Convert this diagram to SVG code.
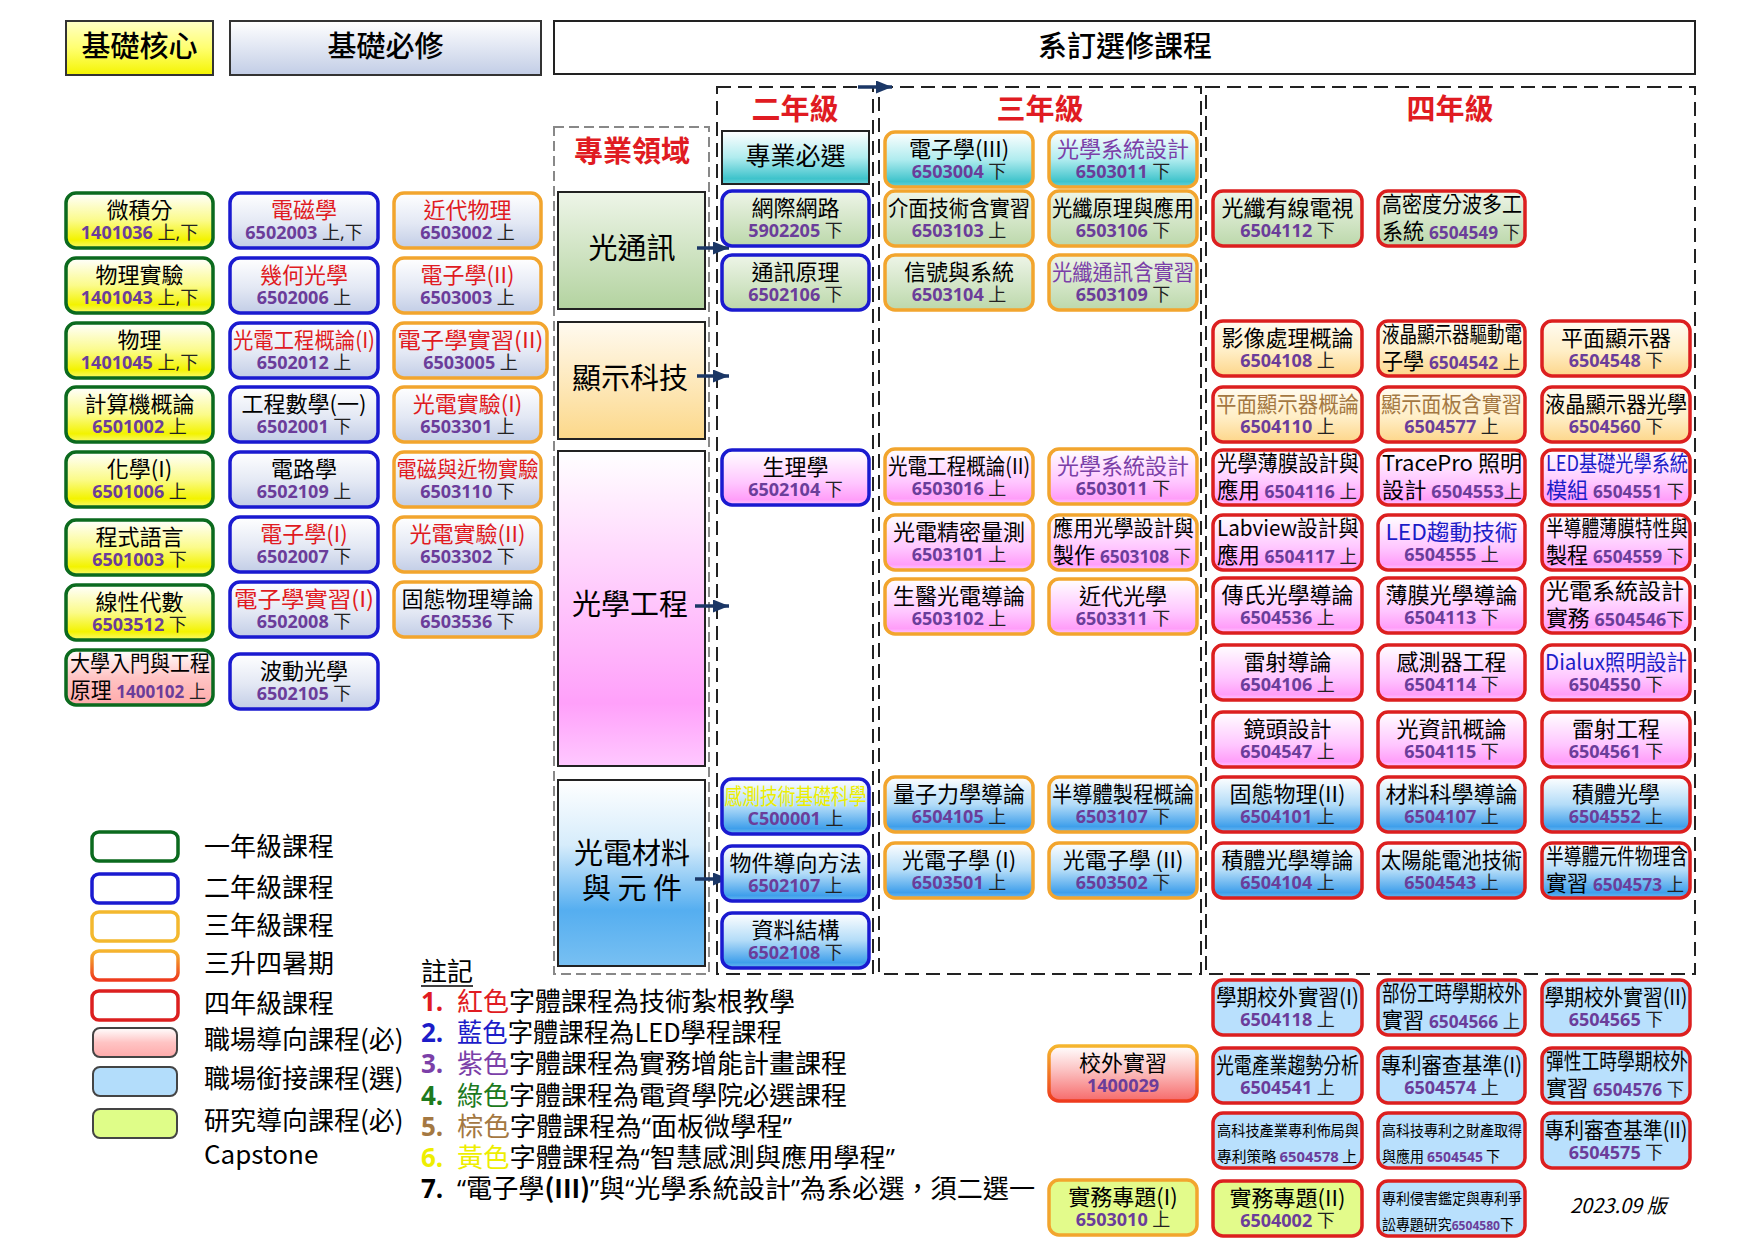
<svg xmlns="http://www.w3.org/2000/svg" width="1755" height="1241" viewBox="0 0 1755 1241">
<defs>
<linearGradient id="gY" x1="0" y1="0" x2="0" y2="1"><stop offset="0" stop-color="#ffffff"/><stop offset="0.5" stop-color="#fbfb8a"/><stop offset="0.85" stop-color="#f3f300"/><stop offset="1" stop-color="#f9f970"/></linearGradient>
<linearGradient id="gB" x1="0" y1="0" x2="0" y2="1"><stop offset="0" stop-color="#ffffff"/><stop offset="0.55" stop-color="#e3e8f4"/><stop offset="1" stop-color="#c2cde6"/></linearGradient>
<linearGradient id="gG" x1="0" y1="0" x2="0" y2="1"><stop offset="0" stop-color="#eef5e8"/><stop offset="1" stop-color="#bcd8ab"/></linearGradient>
<linearGradient id="gO" x1="0" y1="0" x2="0" y2="1"><stop offset="0" stop-color="#fffcf2"/><stop offset="0.55" stop-color="#ffeec6"/><stop offset="1" stop-color="#fdd68a"/></linearGradient>
<linearGradient id="gP" x1="0" y1="0" x2="0" y2="1"><stop offset="0" stop-color="#ffffff"/><stop offset="0.6" stop-color="#ffc6ff"/><stop offset="0.9" stop-color="#ff9ef9"/><stop offset="1" stop-color="#ffc8ff"/></linearGradient>
<linearGradient id="gS" x1="0" y1="0" x2="0" y2="1"><stop offset="0" stop-color="#ffffff"/><stop offset="0.5" stop-color="#b3dcf8"/><stop offset="0.9" stop-color="#3f9feb"/><stop offset="1" stop-color="#6cb8f0"/></linearGradient>
<linearGradient id="gT" x1="0" y1="0" x2="0" y2="1"><stop offset="0" stop-color="#ffffff"/><stop offset="0.5" stop-color="#b0ecef"/><stop offset="0.9" stop-color="#3ec3cb"/><stop offset="1" stop-color="#6ad2d8"/></linearGradient>
<linearGradient id="gR" x1="0" y1="0" x2="0" y2="1"><stop offset="0" stop-color="#ffffff"/><stop offset="0.4" stop-color="#fcc8c8"/><stop offset="1" stop-color="#f66a6a"/></linearGradient>
<linearGradient id="gRL" x1="0" y1="0" x2="0" y2="1"><stop offset="0" stop-color="#ffffff"/><stop offset="0.5" stop-color="#ffc4c4"/><stop offset="1" stop-color="#ffaaaa"/></linearGradient>
<linearGradient id="gOR" x1="0" y1="0" x2="0" y2="1"><stop offset="0" stop-color="#f5b52e"/><stop offset="1" stop-color="#ee3a1e"/></linearGradient>
<linearGradient id="hY" x1="0" y1="0" x2="0" y2="1"><stop offset="0" stop-color="#ffffc8"/><stop offset="0.5" stop-color="#ffff70"/><stop offset="1" stop-color="#f4f400"/></linearGradient>
<linearGradient id="hB" x1="0" y1="0" x2="0" y2="1"><stop offset="0" stop-color="#ffffff"/><stop offset="1" stop-color="#c2cde6"/></linearGradient>
<linearGradient id="dG" x1="0" y1="0" x2="0" y2="1"><stop offset="0" stop-color="#eef5e8"/><stop offset="1" stop-color="#b3d3a0"/></linearGradient>
<linearGradient id="dO" x1="0" y1="0" x2="0" y2="1"><stop offset="0" stop-color="#fffaf0"/><stop offset="1" stop-color="#fcd88a"/></linearGradient>
<linearGradient id="dP" x1="0" y1="0" x2="0" y2="1"><stop offset="0" stop-color="#ffffff"/><stop offset="0.8" stop-color="#ffa0fa"/><stop offset="1" stop-color="#ffc8ff"/></linearGradient>
<linearGradient id="dS" x1="0" y1="0" x2="0" y2="1"><stop offset="0" stop-color="#ffffff"/><stop offset="0.35" stop-color="#d6ecfb"/><stop offset="0.7" stop-color="#55aef0"/><stop offset="1" stop-color="#78c0f2"/></linearGradient>
<marker id="ah" viewBox="0 0 10 10" refX="10" refY="5" markerWidth="16" markerHeight="13" markerUnits="userSpaceOnUse" orient="auto" preserveAspectRatio="none"><path d="M0,0L10,5L0,10z" fill="#1b3766"/></marker>
</defs>
<style>
text{font-family:"Noto Sans CJK TC","Noto Sans CJK SC",sans-serif;fill:#000}
.t{font-size:22px;text-anchor:middle}
.c{font-family:"Open Sans","Noto Sans CJK TC",sans-serif;font-size:18px;text-anchor:middle;fill:#222}
.n{font-family:"Open Sans","Noto Sans CJK TC",sans-serif;font-weight:700;fill:#6b3d9a;font-size:18px}
.u{font-size:18px;fill:#222}
.nd{stroke-width:3.5}
.y1{stroke:#0b6a1e}.y2{stroke:#1a1ad0}.y3{stroke:#f2a52e}.y4{stroke:#dc1f1f}
.red{fill:#e01b22}.pur{fill:#7b3fa8}.brn{fill:#a47842}.blu{fill:#1c1cc8}.yel{fill:#eeee00}.grn{fill:#1d7a1d}
.h{font-size:29px;text-anchor:middle;font-weight:500}
.yr{font-size:29px;font-weight:700;fill:#e01b22;text-anchor:middle}
.dom{font-size:29px;text-anchor:middle}
.lg{font-size:26px}
.s{font-size:15px}
.num{font-family:"Open Sans",sans-serif;font-weight:700}
.q{font-family:"Open Sans",sans-serif}
.l{text-anchor:start}
.dash{fill:none;stroke:#222;stroke-width:2;stroke-dasharray:14 7}
</style>
<rect width="1755" height="1241" fill="#ffffff"/>

<g id="headers">
<rect x="66" y="21" width="147" height="54" fill="url(#hY)" stroke="#333" stroke-width="2"/>
<text class="h" x="139.5" y="57">基礎核心</text>
<rect x="230" y="21" width="311" height="54" fill="url(#hB)" stroke="#333" stroke-width="2"/>
<text class="h" x="385.5" y="57">基礎必修</text>
<rect x="554" y="21" width="1141" height="53" fill="#fff" stroke="#222" stroke-width="2"/>
<text class="h" x="1125" y="57">系訂選修課程</text>
</g>

<g id="frames">
<rect x="554" y="127" width="155" height="847" fill="none" stroke="#888" stroke-width="2" stroke-dasharray="10 5"/>
<text class="yr" x="632" y="162">專業領域</text>
<rect class="dash" x="717" y="87" width="156" height="887"/>
<text class="yr" x="795" y="120">二年級</text>
<rect class="dash" x="879" y="87" width="322" height="887"/>
<text class="yr" x="1040" y="120">三年級</text>
<rect class="dash" x="1206" y="87" width="489" height="887"/>
<text class="yr" x="1450" y="120">四年級</text>
</g>

<g id="domain-optcomm"><rect x="558" y="192" width="147" height="117" fill="url(#dG)" stroke="#222" stroke-width="2"/><text class="dom" x="632" y="259">光通訊</text></g>
<g id="domain-display"><rect x="558" y="322" width="147" height="117" fill="url(#dO)" stroke="#222" stroke-width="2"/><text class="dom" x="630" y="389">顯示科技</text></g>
<g id="domain-opteng"><rect x="558" y="451" width="147" height="315" fill="url(#dP)" stroke="#222" stroke-width="2"/><text class="dom" x="630" y="615">光學工程</text></g>
<g id="domain-material"><rect x="558" y="780" width="147" height="186" fill="url(#dS)" stroke="#222" stroke-width="2"/><text class="dom" x="632" y="864">光電材料</text><text class="dom" x="632" y="899">與 元 件</text></g>
<g id="req-header"><rect x="722" y="131" width="147" height="53" fill="url(#gT)" stroke="#222" stroke-width="2"/><text x="795.5" y="165" font-size="25" text-anchor="middle">專業必選</text></g>

<g id="connectors" stroke="#1b3766" stroke-width="3.5" marker-end="url(#ah)">
<line x1="697" y1="248" x2="729" y2="248"/>
<line x1="697" y1="376" x2="729" y2="376"/>
<line x1="695" y1="606" x2="729" y2="606"/>
<line x1="695" y1="879" x2="729" y2="879"/>
<line x1="858" y1="87" x2="892" y2="87"/>
</g>

<!-- Column 1 -->
<g id="c1-calc"><rect class="nd y1" x="66" y="193" width="147" height="55" rx="10" fill="url(#gY)"/><text class="t" x="139.5" y="218">微積分</text><text class="c" x="139.5" y="239"><tspan class="n">1401036</tspan> 上,下</text></g>
<g id="c1-phylab"><rect class="nd y1" x="66" y="258" width="147" height="55" rx="10" fill="url(#gY)"/><text class="t" x="139.5" y="283">物理實驗</text><text class="c" x="139.5" y="304"><tspan class="n">1401043</tspan> 上,下</text></g>
<g id="c1-phy"><rect class="nd y1" x="66" y="323" width="147" height="55" rx="10" fill="url(#gY)"/><text class="t" x="139.5" y="348">物理</text><text class="c" x="139.5" y="369"><tspan class="n">1401045</tspan> 上,下</text></g>
<g id="c1-comp"><rect class="nd y1" x="66" y="387" width="147" height="55" rx="10" fill="url(#gY)"/><text class="t" x="139.5" y="412">計算機概論</text><text class="c" x="139.5" y="433"><tspan class="n">6501002</tspan> 上</text></g>
<g id="c1-chem"><rect class="nd y1" x="66" y="452" width="147" height="55" rx="10" fill="url(#gY)"/><text class="t" x="139.5" y="477">化學(I)</text><text class="c" x="139.5" y="498"><tspan class="n">6501006</tspan> 上</text></g>
<g id="c1-prog"><rect class="nd y1" x="66" y="520" width="147" height="55" rx="10" fill="url(#gY)"/><text class="t" x="139.5" y="545">程式語言</text><text class="c" x="139.5" y="566"><tspan class="n">6501003</tspan> 下</text></g>
<g id="c1-linalg"><rect class="nd y1" x="66" y="585" width="147" height="55" rx="10" fill="url(#gY)"/><text class="t" x="139.5" y="610">線性代數</text><text class="c" x="139.5" y="631"><tspan class="n">6503512</tspan> 下</text></g>
<g id="c1-intro"><rect class="nd y1" x="66" y="650" width="147" height="55" rx="10" fill="url(#gRL)"/><text class="t l" x="70" y="671" textLength="140" lengthAdjust="spacingAndGlyphs">大學入門與工程</text><text class="t l" x="70" y="698" textLength="136" lengthAdjust="spacingAndGlyphs">原理 <tspan class="n">1400102</tspan> <tspan class="u">上</tspan></text></g>

<!-- Column 2 -->
<g id="c2-em"><rect class="nd y2" x="230" y="193" width="148" height="55" rx="10" fill="url(#gB)"/><text class="t red" x="304" y="218">電磁學</text><text class="c" x="304" y="239"><tspan class="n">6502003</tspan> 上,下</text></g>
<g id="c2-geo"><rect class="nd y2" x="230" y="258" width="148" height="55" rx="10" fill="url(#gB)"/><text class="t red" x="304" y="283">幾何光學</text><text class="c" x="304" y="304"><tspan class="n">6502006</tspan> 上</text></g>
<g id="c2-oe1"><rect class="nd y2" x="230" y="323" width="148" height="55" rx="10" fill="url(#gB)"/><text class="t red" x="304" y="348" textLength="142" lengthAdjust="spacingAndGlyphs">光電工程概論(I)</text><text class="c" x="304" y="369"><tspan class="n">6502012</tspan> 上</text></g>
<g id="c2-engmath"><rect class="nd y2" x="230" y="387" width="148" height="55" rx="10" fill="url(#gB)"/><text class="t" x="304" y="412">工程數學(一)</text><text class="c" x="304" y="433"><tspan class="n">6502001</tspan> 下</text></g>
<g id="c2-circuit"><rect class="nd y2" x="230" y="452" width="148" height="55" rx="10" fill="url(#gB)"/><text class="t" x="304" y="477">電路學</text><text class="c" x="304" y="498"><tspan class="n">6502109</tspan> 上</text></g>
<g id="c2-elec1"><rect class="nd y2" x="230" y="517" width="148" height="55" rx="10" fill="url(#gB)"/><text class="t red" x="304" y="542">電子學(I)</text><text class="c" x="304" y="563"><tspan class="n">6502007</tspan> 下</text></g>
<g id="c2-eleclab1"><rect class="nd y2" x="230" y="582" width="148" height="55" rx="10" fill="url(#gB)"/><text class="t red" x="304" y="607" textLength="140" lengthAdjust="spacingAndGlyphs">電子學實習(I)</text><text class="c" x="304" y="628"><tspan class="n">6502008</tspan> 下</text></g>
<g id="c2-wave"><rect class="nd y2" x="230" y="654" width="148" height="55" rx="10" fill="url(#gB)"/><text class="t" x="304" y="679">波動光學</text><text class="c" x="304" y="700"><tspan class="n">6502105</tspan> 下</text></g>

<!-- Column 3 -->
<g id="c3-modphy"><rect class="nd y3" x="394" y="193" width="147" height="55" rx="10" fill="url(#gB)"/><text class="t red" x="467.5" y="218">近代物理</text><text class="c" x="467.5" y="239"><tspan class="n">6503002</tspan> 上</text></g>
<g id="c3-elec2"><rect class="nd y3" x="394" y="258" width="147" height="55" rx="10" fill="url(#gB)"/><text class="t red" x="467.5" y="283">電子學(II)</text><text class="c" x="467.5" y="304"><tspan class="n">6503003</tspan> 上</text></g>
<g id="c3-eleclab2"><rect class="nd y3" x="394" y="323" width="153" height="55" rx="10" fill="url(#gB)"/><text class="t red" x="470.5" y="348" textLength="146" lengthAdjust="spacingAndGlyphs">電子學實習(II)</text><text class="c" x="470.5" y="369"><tspan class="n">6503005</tspan> 上</text></g>
<g id="c3-oelab1"><rect class="nd y3" x="394" y="387" width="147" height="55" rx="10" fill="url(#gB)"/><text class="t red" x="467.5" y="412">光電實驗(I)</text><text class="c" x="467.5" y="433"><tspan class="n">6503301</tspan> 上</text></g>
<g id="c3-emlab"><rect class="nd y3" x="394" y="452" width="147" height="55" rx="10" fill="url(#gB)"/><text class="t red" x="467.5" y="477" textLength="142" lengthAdjust="spacingAndGlyphs">電磁與近物實驗</text><text class="c" x="467.5" y="498"><tspan class="n">6503110</tspan> 下</text></g>
<g id="c3-oelab2"><rect class="nd y3" x="394" y="517" width="147" height="55" rx="10" fill="url(#gB)"/><text class="t red" x="467.5" y="542">光電實驗(II)</text><text class="c" x="467.5" y="563"><tspan class="n">6503302</tspan> 下</text></g>
<g id="c3-solid"><rect class="nd y3" x="394" y="582" width="147" height="55" rx="10" fill="url(#gB)"/><text class="t" x="467.5" y="607">固態物理導論</text><text class="c" x="467.5" y="628"><tspan class="n">6503536</tspan> 下</text></g>

<!-- Year 2 -->
<g id="y2-internet"><rect class="nd y2" x="722" y="191" width="147" height="55" rx="10" fill="url(#gG)"/><text class="t" x="795.5" y="216">網際網路</text><text class="c" x="795.5" y="237"><tspan class="n">5902205</tspan> 下</text></g>
<g id="y2-comm"><rect class="nd y2" x="722" y="255" width="147" height="55" rx="10" fill="url(#gG)"/><text class="t" x="795.5" y="280">通訊原理</text><text class="c" x="795.5" y="301"><tspan class="n">6502106</tspan> 下</text></g>
<g id="y2-physio"><rect class="nd y2" x="722" y="450" width="147" height="55" rx="10" fill="url(#gP)"/><text class="t" x="795.5" y="475">生理學</text><text class="c" x="795.5" y="496"><tspan class="n">6502104</tspan> 下</text></g>
<g id="y2-sensing"><rect class="nd y2" x="722" y="779" width="147" height="55" rx="10" fill="url(#gS)"/><text class="t yel" x="795.5" y="804" textLength="142" lengthAdjust="spacingAndGlyphs">感測技術基礎科學</text><text class="c" x="795.5" y="825"><tspan class="n">C500001</tspan> 上</text></g>
<g id="y2-oop"><rect class="nd y2" x="722" y="846" width="147" height="55" rx="10" fill="url(#gS)"/><text class="t" x="795.5" y="871">物件導向方法</text><text class="c" x="795.5" y="892"><tspan class="n">6502107</tspan> 上</text></g>
<g id="y2-ds"><rect class="nd y2" x="722" y="913" width="147" height="55" rx="10" fill="url(#gS)"/><text class="t" x="795.5" y="938">資料結構</text><text class="c" x="795.5" y="959"><tspan class="n">6502108</tspan> 下</text></g>

<!-- Year 3 -->
<g id="y3-elec3"><rect class="nd y3" x="885" y="132" width="148" height="55" rx="10" fill="url(#gT)"/><text class="t" x="959" y="157">電子學(III)</text><text class="c" x="959" y="178"><tspan class="n">6503004</tspan> 下</text></g>
<g id="y3-osd1"><rect class="nd y3" x="1049" y="132" width="148" height="55" rx="10" fill="url(#gT)"/><text class="t pur" x="1123" y="157">光學系統設計</text><text class="c" x="1123" y="178"><tspan class="n">6503011</tspan> 下</text></g>
<g id="y3-interface"><rect class="nd y3" x="885" y="191" width="148" height="55" rx="10" fill="url(#gG)"/><text class="t" x="959" y="216" textLength="142" lengthAdjust="spacingAndGlyphs">介面技術含實習</text><text class="c" x="959" y="237"><tspan class="n">6503103</tspan> 上</text></g>
<g id="y3-fiber"><rect class="nd y3" x="1049" y="191" width="148" height="55" rx="10" fill="url(#gG)"/><text class="t" x="1123" y="216" textLength="142" lengthAdjust="spacingAndGlyphs">光纖原理與應用</text><text class="c" x="1123" y="237"><tspan class="n">6503106</tspan> 下</text></g>
<g id="y3-signal"><rect class="nd y3" x="885" y="255" width="148" height="55" rx="10" fill="url(#gG)"/><text class="t" x="959" y="280">信號與系統</text><text class="c" x="959" y="301"><tspan class="n">6503104</tspan> 上</text></g>
<g id="y3-fibercomm"><rect class="nd y3" x="1049" y="255" width="148" height="55" rx="10" fill="url(#gG)"/><text class="t pur" x="1123" y="280" textLength="142" lengthAdjust="spacingAndGlyphs">光纖通訊含實習</text><text class="c" x="1123" y="301"><tspan class="n">6503109</tspan> 下</text></g>
<g id="y3-oe2"><rect class="nd y3" x="885" y="449" width="148" height="55" rx="10" fill="url(#gP)"/><text class="t" x="959" y="474" textLength="142" lengthAdjust="spacingAndGlyphs">光電工程概論(II)</text><text class="c" x="959" y="495"><tspan class="n">6503016</tspan> 上</text></g>
<g id="y3-osd2"><rect class="nd y3" x="1049" y="449" width="148" height="55" rx="10" fill="url(#gP)"/><text class="t pur" x="1123" y="474">光學系統設計</text><text class="c" x="1123" y="495"><tspan class="n">6503011</tspan> 下</text></g>
<g id="y3-precision"><rect class="nd y3" x="885" y="515" width="148" height="55" rx="10" fill="url(#gP)"/><text class="t" x="959" y="540">光電精密量測</text><text class="c" x="959" y="561"><tspan class="n">6503101</tspan> 上</text></g>
<g id="y3-appopt"><rect class="nd y3" x="1049" y="515" width="148" height="55" rx="10" fill="url(#gP)"/><text class="t l" x="1053" y="536" textLength="141" lengthAdjust="spacingAndGlyphs">應用光學設計與</text><text class="t l" x="1053" y="563" textLength="138" lengthAdjust="spacingAndGlyphs">製作 <tspan class="n">6503108</tspan> <tspan class="u">下</tspan></text></g>
<g id="y3-biomed"><rect class="nd y3" x="885" y="579" width="148" height="55" rx="10" fill="url(#gP)"/><text class="t" x="959" y="604">生醫光電導論</text><text class="c" x="959" y="625"><tspan class="n">6503102</tspan> 上</text></g>
<g id="y3-modopt"><rect class="nd y3" x="1049" y="579" width="148" height="55" rx="10" fill="url(#gP)"/><text class="t" x="1123" y="604">近代光學</text><text class="c" x="1123" y="625"><tspan class="n">6503311</tspan> 下</text></g>
<g id="y3-qm"><rect class="nd y3" x="885" y="777" width="148" height="55" rx="10" fill="url(#gS)"/><text class="t" x="959" y="802">量子力學導論</text><text class="c" x="959" y="823"><tspan class="n">6504105</tspan> 上</text></g>
<g id="y3-semiproc"><rect class="nd y3" x="1049" y="777" width="148" height="55" rx="10" fill="url(#gS)"/><text class="t" x="1123" y="802" textLength="142" lengthAdjust="spacingAndGlyphs">半導體製程概論</text><text class="c" x="1123" y="823"><tspan class="n">6503107</tspan> 下</text></g>
<g id="y3-optoe1"><rect class="nd y3" x="885" y="843" width="148" height="55" rx="10" fill="url(#gS)"/><text class="t" x="959" y="868">光電子學 (I)</text><text class="c" x="959" y="889"><tspan class="n">6503501</tspan> 上</text></g>
<g id="y3-optoe2"><rect class="nd y3" x="1049" y="843" width="148" height="55" rx="10" fill="url(#gS)"/><text class="t" x="1123" y="868">光電子學 (II)</text><text class="c" x="1123" y="889"><tspan class="n">6503502</tspan> 下</text></g>
<g id="y3-intern"><rect class="nd" x="1049" y="1046" width="148" height="55" rx="10" fill="url(#gR)" stroke="url(#gOR)"/><text class="t" x="1123" y="1071">校外實習</text><text class="c" x="1123" y="1092"><tspan class="n">1400029</tspan></text></g>
<g id="y3-project1"><rect class="nd y3" x="1049" y="1180" width="148" height="55" rx="10" fill="#e3fb8b"/><text class="t" x="1123" y="1205">實務專題(I)</text><text class="c" x="1123" y="1226"><tspan class="n">6503010</tspan> 上</text></g>

<!-- Year 4 -->
<g id="y4-catv"><rect class="nd y4" x="1213" y="191" width="149" height="55" rx="10" fill="url(#gG)"/><text class="t" x="1287.5" y="216">光纖有線電視</text><text class="c" x="1287.5" y="237"><tspan class="n">6504112</tspan> 下</text></g>
<g id="y4-dwdm"><rect class="nd y4" x="1378" y="191" width="147" height="55" rx="10" fill="url(#gG)"/><text class="t l" x="1382" y="212" textLength="140" lengthAdjust="spacingAndGlyphs">高密度分波多工</text><text class="t l" x="1382" y="239" textLength="138" lengthAdjust="spacingAndGlyphs">系統 <tspan class="n">6504549</tspan> <tspan class="u">下</tspan></text></g>
<g id="y4-imgproc"><rect class="nd y4" x="1213" y="321" width="149" height="55" rx="10" fill="url(#gO)"/><text class="t" x="1287.5" y="346">影像處理概論</text><text class="c" x="1287.5" y="367"><tspan class="n">6504108</tspan> 上</text></g>
<g id="y4-lcddrv"><rect class="nd y4" x="1378" y="321" width="147" height="55" rx="10" fill="url(#gO)"/><text class="t l" x="1382" y="342" textLength="140" lengthAdjust="spacingAndGlyphs">液晶顯示器驅動電</text><text class="t l" x="1382" y="369" textLength="138" lengthAdjust="spacingAndGlyphs">子學 <tspan class="n">6504542</tspan>  <tspan class="u">上</tspan></text></g>
<g id="y4-fpd"><rect class="nd y4" x="1542" y="321" width="148" height="55" rx="10" fill="url(#gO)"/><text class="t" x="1616" y="346">平面顯示器</text><text class="c" x="1616" y="367"><tspan class="n">6504548</tspan> 下</text></g>
<g id="y4-fpdintro"><rect class="nd y4" x="1213" y="387" width="149" height="55" rx="10" fill="url(#gO)"/><text class="t brn" x="1287.5" y="412" textLength="143" lengthAdjust="spacingAndGlyphs">平面顯示器概論</text><text class="c" x="1287.5" y="433"><tspan class="n">6504110</tspan> 上</text></g>
<g id="y4-panel"><rect class="nd y4" x="1378" y="387" width="147" height="55" rx="10" fill="url(#gO)"/><text class="t brn" x="1451.5" y="412" textLength="141" lengthAdjust="spacingAndGlyphs">顯示面板含實習</text><text class="c" x="1451.5" y="433"><tspan class="n">6504577</tspan> 上</text></g>
<g id="y4-lcdopt"><rect class="nd y4" x="1542" y="387" width="148" height="55" rx="10" fill="url(#gO)"/><text class="t" x="1616" y="412" textLength="142" lengthAdjust="spacingAndGlyphs">液晶顯示器光學</text><text class="c" x="1616" y="433"><tspan class="n">6504560</tspan> 下</text></g>
<g id="y4-thinfilm"><rect class="nd y4" x="1213" y="450" width="149" height="55" rx="10" fill="url(#gP)"/><text class="t l" x="1217" y="471" textLength="142" lengthAdjust="spacingAndGlyphs">光學薄膜設計與</text><text class="t l" x="1217" y="498" textLength="140" lengthAdjust="spacingAndGlyphs">應用 <tspan class="n">6504116</tspan> <tspan class="u">上</tspan></text></g>
<g id="y4-tracepro"><rect class="nd y4" x="1378" y="450" width="147" height="55" rx="10" fill="url(#gP)"/><text class="t l" x="1382" y="471" textLength="140" lengthAdjust="spacingAndGlyphs">TracePro 照明</text><text class="t l" x="1382" y="498" textLength="140" lengthAdjust="spacingAndGlyphs">設計 <tspan class="n">6504553</tspan><tspan class="u">上</tspan></text></g>
<g id="y4-ledopt"><rect class="nd y4" x="1542" y="450" width="148" height="55" rx="10" fill="url(#gP)"/><text class="t l blu" x="1546" y="471" textLength="142" lengthAdjust="spacingAndGlyphs">LED基礎光學系統</text><text class="t l" x="1546" y="498" textLength="138" lengthAdjust="spacingAndGlyphs"><tspan class="blu">模組</tspan> <tspan class="n">6504551</tspan>  <tspan class="u">下</tspan></text></g>
<g id="y4-labview"><rect class="nd y4" x="1213" y="515" width="149" height="55" rx="10" fill="url(#gP)"/><text class="t l" x="1217" y="536" textLength="142" lengthAdjust="spacingAndGlyphs">Labview設計與</text><text class="t l" x="1217" y="563" textLength="140" lengthAdjust="spacingAndGlyphs">應用 <tspan class="n">6504117</tspan> <tspan class="u">上</tspan></text></g>
<g id="y4-leddrv"><rect class="nd y4" x="1378" y="515" width="147" height="55" rx="10" fill="url(#gP)"/><text class="t blu" x="1451.5" y="540" textLength="132" lengthAdjust="spacingAndGlyphs">LED趨動技術</text><text class="c" x="1451.5" y="561"><tspan class="n">6504555</tspan> 上</text></g>
<g id="y4-semifilm"><rect class="nd y4" x="1542" y="515" width="148" height="55" rx="10" fill="url(#gP)"/><text class="t l" x="1546" y="536" textLength="142" lengthAdjust="spacingAndGlyphs">半導體薄膜特性與</text><text class="t l" x="1546" y="563" textLength="138" lengthAdjust="spacingAndGlyphs">製程 <tspan class="n">6504559</tspan>  <tspan class="u">下</tspan></text></g>
<g id="y4-fourier"><rect class="nd y4" x="1213" y="578" width="149" height="55" rx="10" fill="url(#gP)"/><text class="t" x="1287.5" y="603">傳氏光學導論</text><text class="c" x="1287.5" y="624"><tspan class="n">6504536</tspan> 上</text></g>
<g id="y4-filmopt"><rect class="nd y4" x="1378" y="578" width="147" height="55" rx="10" fill="url(#gP)"/><text class="t" x="1451.5" y="603">薄膜光學導論</text><text class="c" x="1451.5" y="624"><tspan class="n">6504113</tspan> 下</text></g>
<g id="y4-oesys"><rect class="nd y4" x="1542" y="578" width="148" height="55" rx="10" fill="url(#gP)"/><text class="t l" x="1546" y="599" textLength="138" lengthAdjust="spacingAndGlyphs">光電系統設計</text><text class="t l" x="1546" y="626" textLength="138" lengthAdjust="spacingAndGlyphs">實務 <tspan class="n">6504546</tspan><tspan class="u">下</tspan></text></g>
<g id="y4-laser"><rect class="nd y4" x="1213" y="645" width="149" height="55" rx="10" fill="url(#gP)"/><text class="t" x="1287.5" y="670">雷射導論</text><text class="c" x="1287.5" y="691"><tspan class="n">6504106</tspan> 上</text></g>
<g id="y4-sensor"><rect class="nd y4" x="1378" y="645" width="147" height="55" rx="10" fill="url(#gP)"/><text class="t" x="1451.5" y="670">感測器工程</text><text class="c" x="1451.5" y="691"><tspan class="n">6504114</tspan> 下</text></g>
<g id="y4-dialux"><rect class="nd y4" x="1542" y="645" width="148" height="55" rx="10" fill="url(#gP)"/><text class="t blu" x="1616" y="670" textLength="142" lengthAdjust="spacingAndGlyphs">Dialux照明設計</text><text class="c" x="1616" y="691"><tspan class="n">6504550</tspan> 下</text></g>
<g id="y4-lens"><rect class="nd y4" x="1213" y="712" width="149" height="55" rx="10" fill="url(#gP)"/><text class="t" x="1287.5" y="737">鏡頭設計</text><text class="c" x="1287.5" y="758"><tspan class="n">6504547</tspan> 上</text></g>
<g id="y4-optinfo"><rect class="nd y4" x="1378" y="712" width="147" height="55" rx="10" fill="url(#gP)"/><text class="t" x="1451.5" y="737">光資訊概論</text><text class="c" x="1451.5" y="758"><tspan class="n">6504115</tspan> 下</text></g>
<g id="y4-lasereng"><rect class="nd y4" x="1542" y="712" width="148" height="55" rx="10" fill="url(#gP)"/><text class="t" x="1616" y="737">雷射工程</text><text class="c" x="1616" y="758"><tspan class="n">6504561</tspan> 下</text></g>
<g id="y4-solid2"><rect class="nd y4" x="1213" y="777" width="149" height="55" rx="10" fill="url(#gS)"/><text class="t" x="1287.5" y="802">固態物理(II)</text><text class="c" x="1287.5" y="823"><tspan class="n">6504101</tspan> 上</text></g>
<g id="y4-matsci"><rect class="nd y4" x="1378" y="777" width="147" height="55" rx="10" fill="url(#gS)"/><text class="t" x="1451.5" y="802">材料科學導論</text><text class="c" x="1451.5" y="823"><tspan class="n">6504107</tspan> 上</text></g>
<g id="y4-intopt"><rect class="nd y4" x="1542" y="777" width="148" height="55" rx="10" fill="url(#gS)"/><text class="t" x="1616" y="802">積體光學</text><text class="c" x="1616" y="823"><tspan class="n">6504552</tspan> 上</text></g>
<g id="y4-intoptintro"><rect class="nd y4" x="1213" y="843" width="149" height="55" rx="10" fill="url(#gS)"/><text class="t" x="1287.5" y="868">積體光學導論</text><text class="c" x="1287.5" y="889"><tspan class="n">6504104</tspan> 上</text></g>
<g id="y4-solar"><rect class="nd y4" x="1378" y="843" width="147" height="55" rx="10" fill="url(#gS)"/><text class="t" x="1451.5" y="868" textLength="141" lengthAdjust="spacingAndGlyphs">太陽能電池技術</text><text class="c" x="1451.5" y="889"><tspan class="n">6504543</tspan> 上</text></g>
<g id="y4-semidev"><rect class="nd y4" x="1542" y="843" width="148" height="55" rx="10" fill="url(#gS)"/><text class="t l" x="1546" y="864" textLength="142" lengthAdjust="spacingAndGlyphs">半導體元件物理含</text><text class="t l" x="1546" y="891" textLength="138" lengthAdjust="spacingAndGlyphs">實習 <tspan class="n">6504573</tspan>  <tspan class="u">上</tspan></text></g>
<g id="y4-intern1"><rect class="nd y4" x="1213" y="980" width="149" height="55" rx="10" fill="#b9e0fd"/><text class="t" x="1287.5" y="1005" textLength="143" lengthAdjust="spacingAndGlyphs">學期校外實習(I)</text><text class="c" x="1287.5" y="1026"><tspan class="n">6504118</tspan> 上</text></g>
<g id="y4-parttime"><rect class="nd y4" x="1378" y="980" width="147" height="55" rx="10" fill="#b9e0fd"/><text class="t l" x="1382" y="1001" textLength="140" lengthAdjust="spacingAndGlyphs">部份工時學期校外</text><text class="t l" x="1382" y="1028" textLength="138" lengthAdjust="spacingAndGlyphs">實習  <tspan class="n">6504566</tspan>  <tspan class="u">上</tspan></text></g>
<g id="y4-intern2"><rect class="nd y4" x="1542" y="980" width="148" height="55" rx="10" fill="#b9e0fd"/><text class="t" x="1616" y="1005" textLength="143" lengthAdjust="spacingAndGlyphs">學期校外實習(II)</text><text class="c" x="1616" y="1026"><tspan class="n">6504565</tspan> 下</text></g>
<g id="y4-trend"><rect class="nd y4" x="1213" y="1048" width="149" height="55" rx="10" fill="#b9e0fd"/><text class="t" x="1287.5" y="1073" textLength="143" lengthAdjust="spacingAndGlyphs">光電產業趨勢分析</text><text class="c" x="1287.5" y="1094"><tspan class="n">6504541</tspan> 上</text></g>
<g id="y4-patent1"><rect class="nd y4" x="1378" y="1048" width="147" height="55" rx="10" fill="#b9e0fd"/><text class="t" x="1451.5" y="1073" textLength="141" lengthAdjust="spacingAndGlyphs">專利審查基準(I)</text><text class="c" x="1451.5" y="1094"><tspan class="n">6504574</tspan> 上</text></g>
<g id="y4-flextime"><rect class="nd y4" x="1542" y="1048" width="148" height="55" rx="10" fill="#b9e0fd"/><text class="t l" x="1546" y="1069" textLength="142" lengthAdjust="spacingAndGlyphs">彈性工時學期校外</text><text class="t l" x="1546" y="1096" textLength="138" lengthAdjust="spacingAndGlyphs">實習  <tspan class="n">6504576</tspan>  <tspan class="u">下</tspan></text></g>
<g id="y4-patentlayout"><rect class="nd y4" x="1213" y="1113" width="149" height="55" rx="10" fill="#b9e0fd"/><text class="s l" x="1217" y="1136" textLength="142" lengthAdjust="spacingAndGlyphs">高科技產業專利佈局與</text><text class="s l" x="1217" y="1162" textLength="140" lengthAdjust="spacingAndGlyphs">專利策略 <tspan class="n" style="font-size:15px">6504578</tspan> 上</text></g>
<g id="y4-patentprop"><rect class="nd y4" x="1378" y="1113" width="147" height="55" rx="10" fill="#b9e0fd"/><text class="s l" x="1382" y="1136" textLength="140" lengthAdjust="spacingAndGlyphs">高科技專利之財產取得</text><text class="s l" x="1382" y="1162" textLength="118" lengthAdjust="spacingAndGlyphs">與應用 <tspan class="n" style="font-size:15px">6504545</tspan> 下</text></g>
<g id="y4-patent2"><rect class="nd y4" x="1542" y="1113" width="148" height="55" rx="10" fill="#b9e0fd"/><text class="t" x="1616" y="1138" textLength="143" lengthAdjust="spacingAndGlyphs">專利審查基準(II)</text><text class="c" x="1616" y="1159"><tspan class="n">6504575</tspan> 下</text></g>
<g id="y4-project2"><rect class="nd y4" x="1213" y="1181" width="149" height="55" rx="10" fill="#e3fb8b"/><text class="t" x="1287.5" y="1206">實務專題(II)</text><text class="c" x="1287.5" y="1227"><tspan class="n">6504002</tspan> 下</text></g>
<g id="y4-patentlit"><rect class="nd y4" x="1378" y="1181" width="147" height="55" rx="10" fill="#b9e0fd"/><text class="s l" x="1382" y="1204" textLength="140" lengthAdjust="spacingAndGlyphs">專利侵害鑑定與專利爭</text><text class="s l" x="1382" y="1230" textLength="132" lengthAdjust="spacingAndGlyphs">訟專題研究<tspan class="n" style="font-size:13px">6504580</tspan>下</text></g>

<!-- Legend -->
<g id="legend">
<rect x="92" y="832" width="86" height="29" rx="7" fill="#fff" stroke="#0b6a1e" stroke-width="3.5"/>
<rect x="92" y="874" width="86" height="29" rx="7" fill="#fff" stroke="#1a1ad0" stroke-width="3.5"/>
<rect x="92" y="912" width="86" height="29" rx="7" fill="#fff" stroke="#f3b82e" stroke-width="3.5"/>
<rect x="92" y="951" width="86" height="29" rx="7" fill="#fff" stroke="url(#gOR)" stroke-width="3.5"/>
<rect x="92" y="991" width="86" height="29" rx="7" fill="#fff" stroke="#dc1f1f" stroke-width="3.5"/>
<rect x="93" y="1028" width="84" height="29" rx="7" fill="url(#gRL)" stroke="#444" stroke-width="2"/>
<rect x="93" y="1067" width="84" height="29" rx="7" fill="#b3ddfb" stroke="#444" stroke-width="2"/>
<rect x="93" y="1109" width="84" height="29" rx="7" fill="#dffd88" stroke="#444" stroke-width="2"/>
<text class="lg" x="204" y="856">一年級課程</text>
<text class="lg" x="204" y="897">二年級課程</text>
<text class="lg" x="204" y="935">三年級課程</text>
<text class="lg" x="204" y="973">三升四暑期</text>
<text class="lg" x="204" y="1013">四年級課程</text>
<text class="lg" x="204" y="1049">職場導向課程(必)</text>
<text class="lg" x="204" y="1088">職場銜接課程(選)</text>
<text class="lg" x="204" y="1130">研究導向課程(必)</text>
<text class="lg" x="204" y="1164">Capstone</text>
</g>

<!-- Notes -->
<g id="notes">
<text class="lg" x="421" y="981">註記</text>
<line x1="421" y1="986" x2="473" y2="986" stroke="#000" stroke-width="1.5"/>
<text class="lg num red" x="421" y="1011">1.</text>
<text class="lg" x="457" y="1011"><tspan class="red">紅色</tspan>字體課程為技術紮根教學</text>
<text class="lg num blu" x="421" y="1042">2.</text>
<text class="lg" x="457" y="1042" textLength="325" lengthAdjust="spacingAndGlyphs"><tspan class="blu">藍色</tspan>字體課程為LED學程課程</text>
<text class="lg num pur" x="421" y="1073">3.</text>
<text class="lg" x="457" y="1073"><tspan class="pur">紫色</tspan>字體課程為實務增能計畫課程</text>
<text class="lg num grn" x="421" y="1105">4.</text>
<text class="lg" x="457" y="1105"><tspan class="grn">綠色</tspan>字體課程為電資學院必選課程</text>
<text class="lg num brn" x="421" y="1136">5.</text>
<text class="lg" x="457" y="1136" textLength="335" lengthAdjust="spacingAndGlyphs"><tspan class="brn">棕色</tspan>字體課程為<tspan class="q">“</tspan>面板微學程<tspan class="q">”</tspan></text>
<text class="lg num yel" x="421" y="1167">6.</text>
<text class="lg" x="457" y="1167" textLength="438" lengthAdjust="spacingAndGlyphs"><tspan class="yel">黃色</tspan>字體課程為<tspan class="q">“</tspan>智慧感測與應用學程<tspan class="q">”</tspan></text>
<text class="lg num" x="421" y="1198">7.</text>
<text class="lg" x="457" y="1198" textLength="578" lengthAdjust="spacingAndGlyphs"><tspan class="q">“</tspan>電子學<tspan font-weight="700">(III)</tspan><tspan class="q">”</tspan>與<tspan class="q">“</tspan>光學系統設計<tspan class="q">”</tspan>為系必選，須二選一</text>
</g>

<text x="1570" y="1213" font-size="20" font-style="italic">2023.09 版</text>
</svg>
